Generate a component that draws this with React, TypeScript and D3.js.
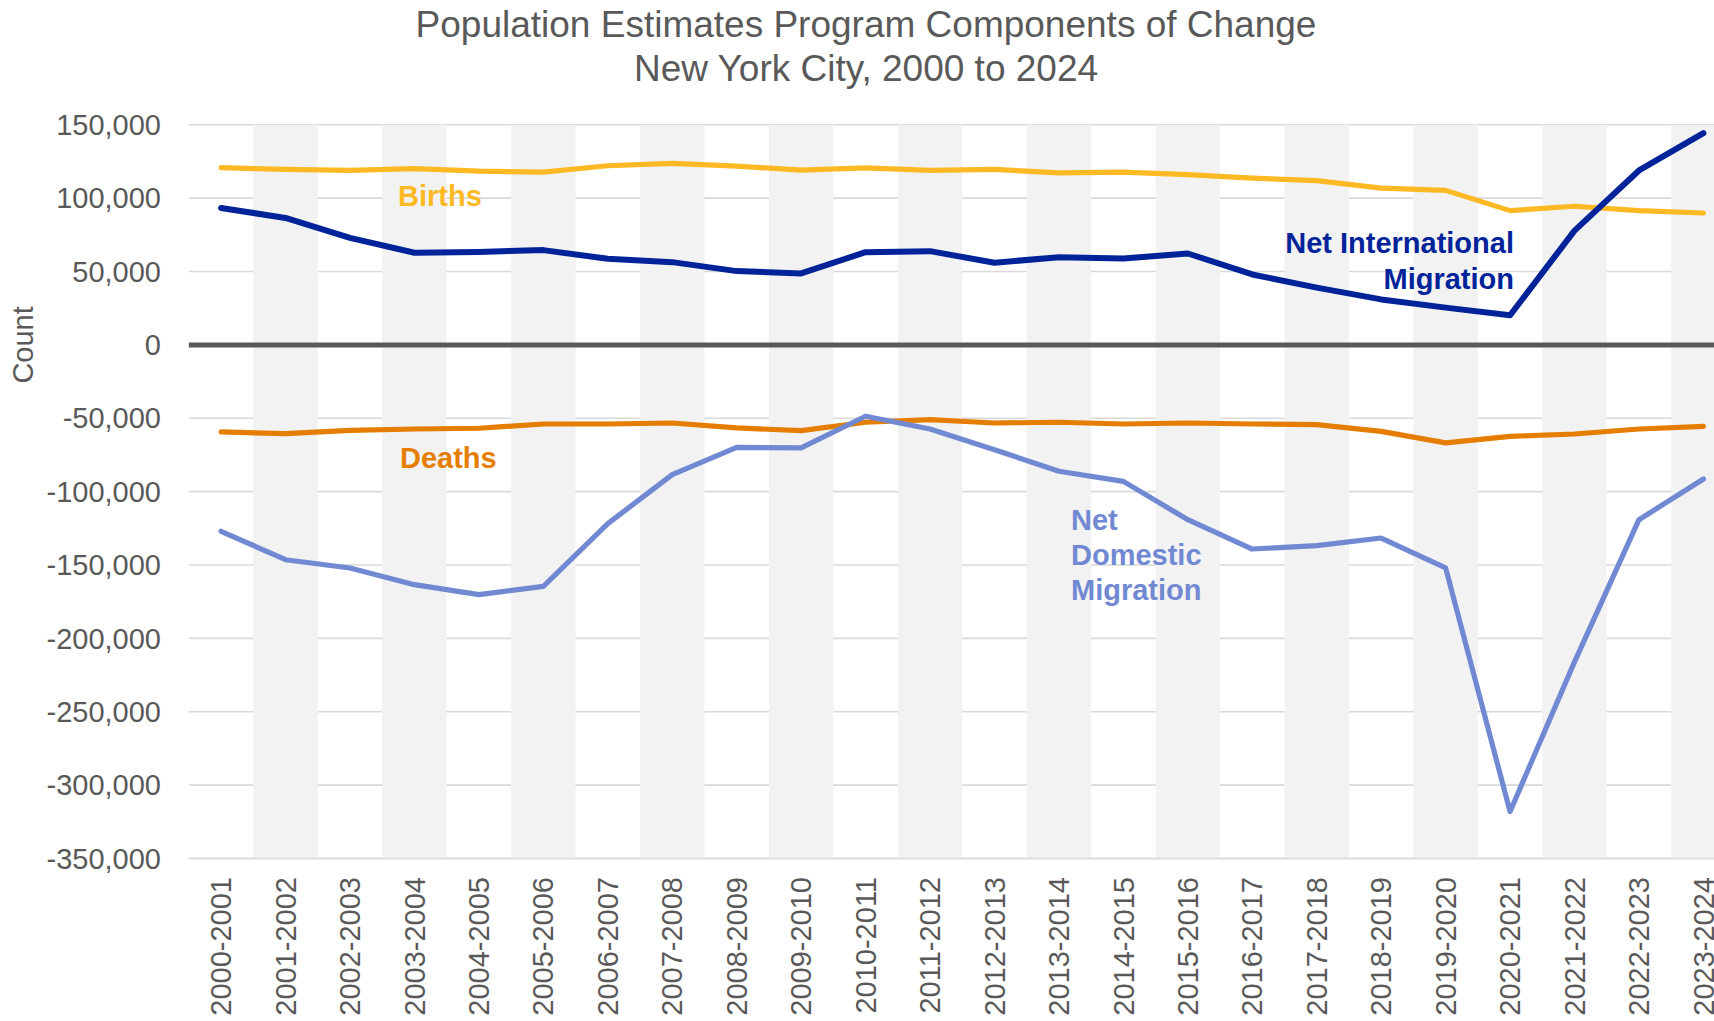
import React from "react";
import * as d3 from "d3";

const categories = [
  "2000-2001", "2001-2002", "2002-2003", "2003-2004", "2004-2005", "2005-2006",
  "2006-2007", "2007-2008", "2008-2009", "2009-2010", "2010-2011", "2011-2012",
  "2012-2013", "2013-2014", "2014-2015", "2015-2016", "2016-2017", "2017-2018",
  "2018-2019", "2019-2020", "2020-2021", "2021-2022", "2022-2023", "2023-2024",
];

const births = [
  120800, 119600, 118900, 120100, 118400, 117800, 122100, 123700, 121900, 119100,
  120700, 118900, 119600, 117300, 117800, 116000, 113700, 111900, 106900, 105300,
  91500, 94500, 91500, 89900,
];

const deaths = [
  -59300, -60500, -58200, -57300, -56800, -53900, -53900, -53200, -56600, -58400,
  -52700, -50900, -53200, -52700, -53900, -53200, -53900, -54300, -58900, -66800,
  -62300, -60700, -57300, -55500,
];

const netInternational = [
  93300, 86500, 72900, 62800, 63400, 64600, 58700, 56400, 50300, 48700,
  63200, 63900, 56000, 59800, 58900, 62300, 48000, 39000, 31000, 25400,
  20200, 77900, 118900, 144300,
];

const netDomestic = [
  -127000, -146400, -152000, -163400, -170200, -164500, -121800, -88400, -69800, -70200,
  -48600, -57300, -71400, -86100, -93000, -119100, -139100, -136800, -131600, -152000,
  -318000, -216000, -119100, -91400,
];

const yTicks = [150000, 100000, 50000, 0, -50000, -100000, -150000, -200000, -250000, -300000, -350000];

const titleLines = ["Population Estimates Program Components of Change", "New York City, 2000 to 2024"];

const W = 1714;
const H = 1021;
const FONT = "'Liberation Sans', Arial, Helvetica, sans-serif";
const TEXT = "#595959";

const C_BIRTHS = "#FDB924";
const C_DEATHS = "#E57E00";
const C_NIM = "#00239A";
const C_NDM = "#7189D3";

const locale = d3.formatLocale({ decimal: ".", thousands: ",", grouping: [3], currency: ["$", ""], minus: "-" });
const fmt = locale.format(",");

export default function App() {
  const left = 188.85;
  const step = 64.45;
  const x = d3.scaleBand<string>().domain(categories).range([left, left + step * categories.length]).padding(0);
  const y = d3.scaleLinear().domain([-350000, 150000]).range([858.5, 124.8]);
  const cx = (c: string) => (x(c) as number) + x.bandwidth() / 2;

  const line = d3
    .line<number>()
    .x((_, i) => cx(categories[i]))
    .y((d) => y(d));

  const series = [
    { data: births, color: C_BIRTHS, w: 5.2 },
    { data: deaths, color: C_DEATHS, w: 5.2 },
    { data: netDomestic, color: C_NDM, w: 5.2 },
    { data: netInternational, color: C_NIM, w: 6 },
  ];

  const right = W;

  return (
    <svg width={W} height={H} style={{ position: "absolute", left: 0, top: 0, background: "#fff" }} fontFamily={FONT}>
      <rect x={0} y={0} width={W} height={H} fill="#fff" />
      {yTicks.map((t) => (
        <line key={"g" + t} x1={left} x2={right} y1={y(t)} y2={y(t)} stroke="#d9d9d9" strokeWidth={1.6} />
      ))}
      {categories.map((c, i) =>
        i % 2 === 1 ? (
          <rect key={"b" + c} x={x(c)} y={y(150000)} width={x.bandwidth()} height={y(-350000) - y(150000)} fill="#f2f2f2" />
        ) : null
      )}
      <line x1={left} x2={right} y1={y(-350000)} y2={y(-350000)} stroke="#d9d9d9" strokeWidth={1.6} />
      <line x1={left} x2={right} y1={y(0)} y2={y(0)} stroke="#595959" strokeWidth={5} />
      {yTicks.map((t) => (
        <text key={"yt" + t} x={161} y={y(t)} dy="0.35em" textAnchor="end" fontSize={29} fill={TEXT}>
          {fmt(t)}
        </text>
      ))}
      <text transform={`translate(33, ${y(0)}) rotate(-90)`} textAnchor="middle" fontSize={29} fill={TEXT}>
        Count
      </text>
      {categories.map((c) => (
        <text
          key={"xt" + c}
          transform={`translate(${cx(c)}, 877) rotate(-90)`}
          textAnchor="end"
          dy="0.35em"
          fontSize={29}
          fill={TEXT}
        >
          {c}
        </text>
      ))}
      {series.map((s, k) => (
        <path
          key={"s" + k}
          d={line(s.data) as string}
          fill="none"
          stroke={s.color}
          strokeWidth={s.w}
          strokeLinejoin="round"
          strokeLinecap="round"
        />
      ))}
      <text x={398} y={206} fontSize={29} fontWeight="bold" fill={C_BIRTHS}>Births</text>
      <text x={400} y={468} fontSize={29} fontWeight="bold" fill={C_DEATHS}>Deaths</text>
      <text textAnchor="end" fontSize={29} fontWeight="bold" fill={C_NIM}>
        <tspan x={1514} y={253}>Net International</tspan>
        <tspan x={1514} y={289}>Migration</tspan>
      </text>
      <text fontSize={29} fontWeight="bold" fill={C_NDM}>
        <tspan x={1071} y={530}>Net</tspan>
        <tspan x={1071} y={565}>Domestic</tspan>
        <tspan x={1071} y={600}>Migration</tspan>
      </text>
      <text textAnchor="middle" fontSize={37} fill={TEXT}>
        <tspan x={866} y={37}>{titleLines[0]}</tspan>
        <tspan x={866} y={81}>{titleLines[1]}</tspan>
      </text>
    </svg>
  );
}
